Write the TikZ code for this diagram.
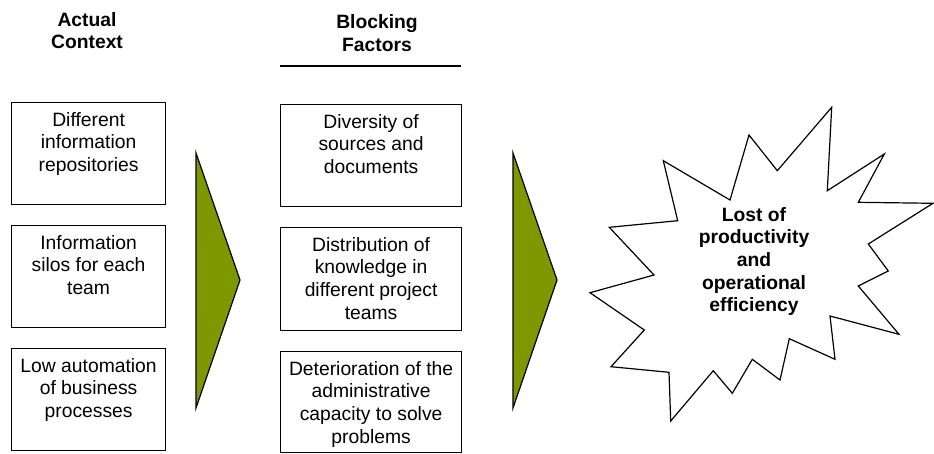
\documentclass[tikz,border=0pt]{standalone}
\usepackage{fontspec}
\setmainfont{Liberation Sans}
\definecolor{olive}{RGB}{128,152,0}
\begin{document}
\begin{tikzpicture}[x=1pt,y=-1pt,
  box/.style={draw=black, line width=1.2pt, inner sep=0pt, anchor=north west},
  txt/.style={inner sep=0pt, align=center, anchor=north, font=\fontsize{19.3}{22.7}\selectfont},
  head/.style={txt, font=\fontsize{19.3}{22.7}\selectfont\bfseries},
  tri/.style={draw=black, line width=1.2pt, fill=olive, line join=miter},
  star/.style={draw=black, line width=1.2pt, fill=white, line join=miter}]
\useasboundingbox (0,0) rectangle (934,453);

% headers
\node[head] (h1) at (87,10.1) {\strut Actual\\Context};
\node[head] (h2) at (377,12.4) {\strut Blocking\\Factors};
\coordinate (ul) at (280,66);
\coordinate (ur) at (461,66);
\draw[line width=1.2pt] (ul) -- (ur);

% left column
\node[box, minimum width=154pt, minimum height=102pt] (a1) at (11,102) {};
\node[box, minimum width=154pt, minimum height=102pt] (a2) at (11,225) {};
\node[box, minimum width=154pt, minimum height=102pt] (a3) at (11,348) {};
\node[txt] (a1t) at ([yshift=-8.1pt]a1.north) {\strut Different\\information\\repositories};
\node[txt] (a2t) at ([yshift=-8.1pt]a2.north) {\strut Information\\silos for each\\team};
\node[txt] (a3t) at ([yshift=-8.1pt]a3.north) {\strut Low automation\\of business\\processes};

% middle column
\node[box, minimum width=181pt, minimum height=102pt] (b1) at (280,104) {};
\node[box, minimum width=181pt, minimum height=103pt] (b2) at (280,227) {};
\node[box, minimum width=181pt, minimum height=101pt] (b3) at (280,351) {};
\node[txt] (b1t) at ([yshift=-8.1pt]b1.north) {\strut Diversity of\\sources and\\documents};
\node[txt] (b2t) at ([yshift=-8.1pt]b2.north) {\strut Distribution of\\knowledge in\\different project\\teams};
\node[txt] (b3t) at ([yshift=-8.1pt]b3.north) {\strut Deterioration of the\\administrative\\capacity to solve\\problems};

% arrows (triangles)
\draw[tri] (196,153) -- (240,280) -- (196,408) -- cycle;
\draw[tri] (513,153) -- (557,280) -- (513,408) -- cycle;

% starburst
\draw[star] (831.7,107.3) -- (827.3,190.7) -- (884.3,154) -- (858.3,202.3)
  -- (933,203.3) -- (868.3,244) -- (888.3,271) -- (858.3,286) -- (899,334.3)
  -- (830,316) -- (835,359.3) -- (789.3,338.7) -- (780,380) -- (752.3,359.3)
  -- (732.3,393.3) -- (713.3,370.7) -- (670.7,421) -- (669,372.3) -- (611,366.7)
  -- (644.3,330) -- (590,292.7) -- (654,275) -- (609.3,227.3) -- (677.7,220.7)
  -- (663.3,160.7) -- (730,200) -- (749,135) -- (777.3,170.7) -- cycle;
\node[head] (s) at (754,205.1) {\strut Lost of\\productivity\\and\\operational\\efficiency};
\end{tikzpicture}
\end{document}
